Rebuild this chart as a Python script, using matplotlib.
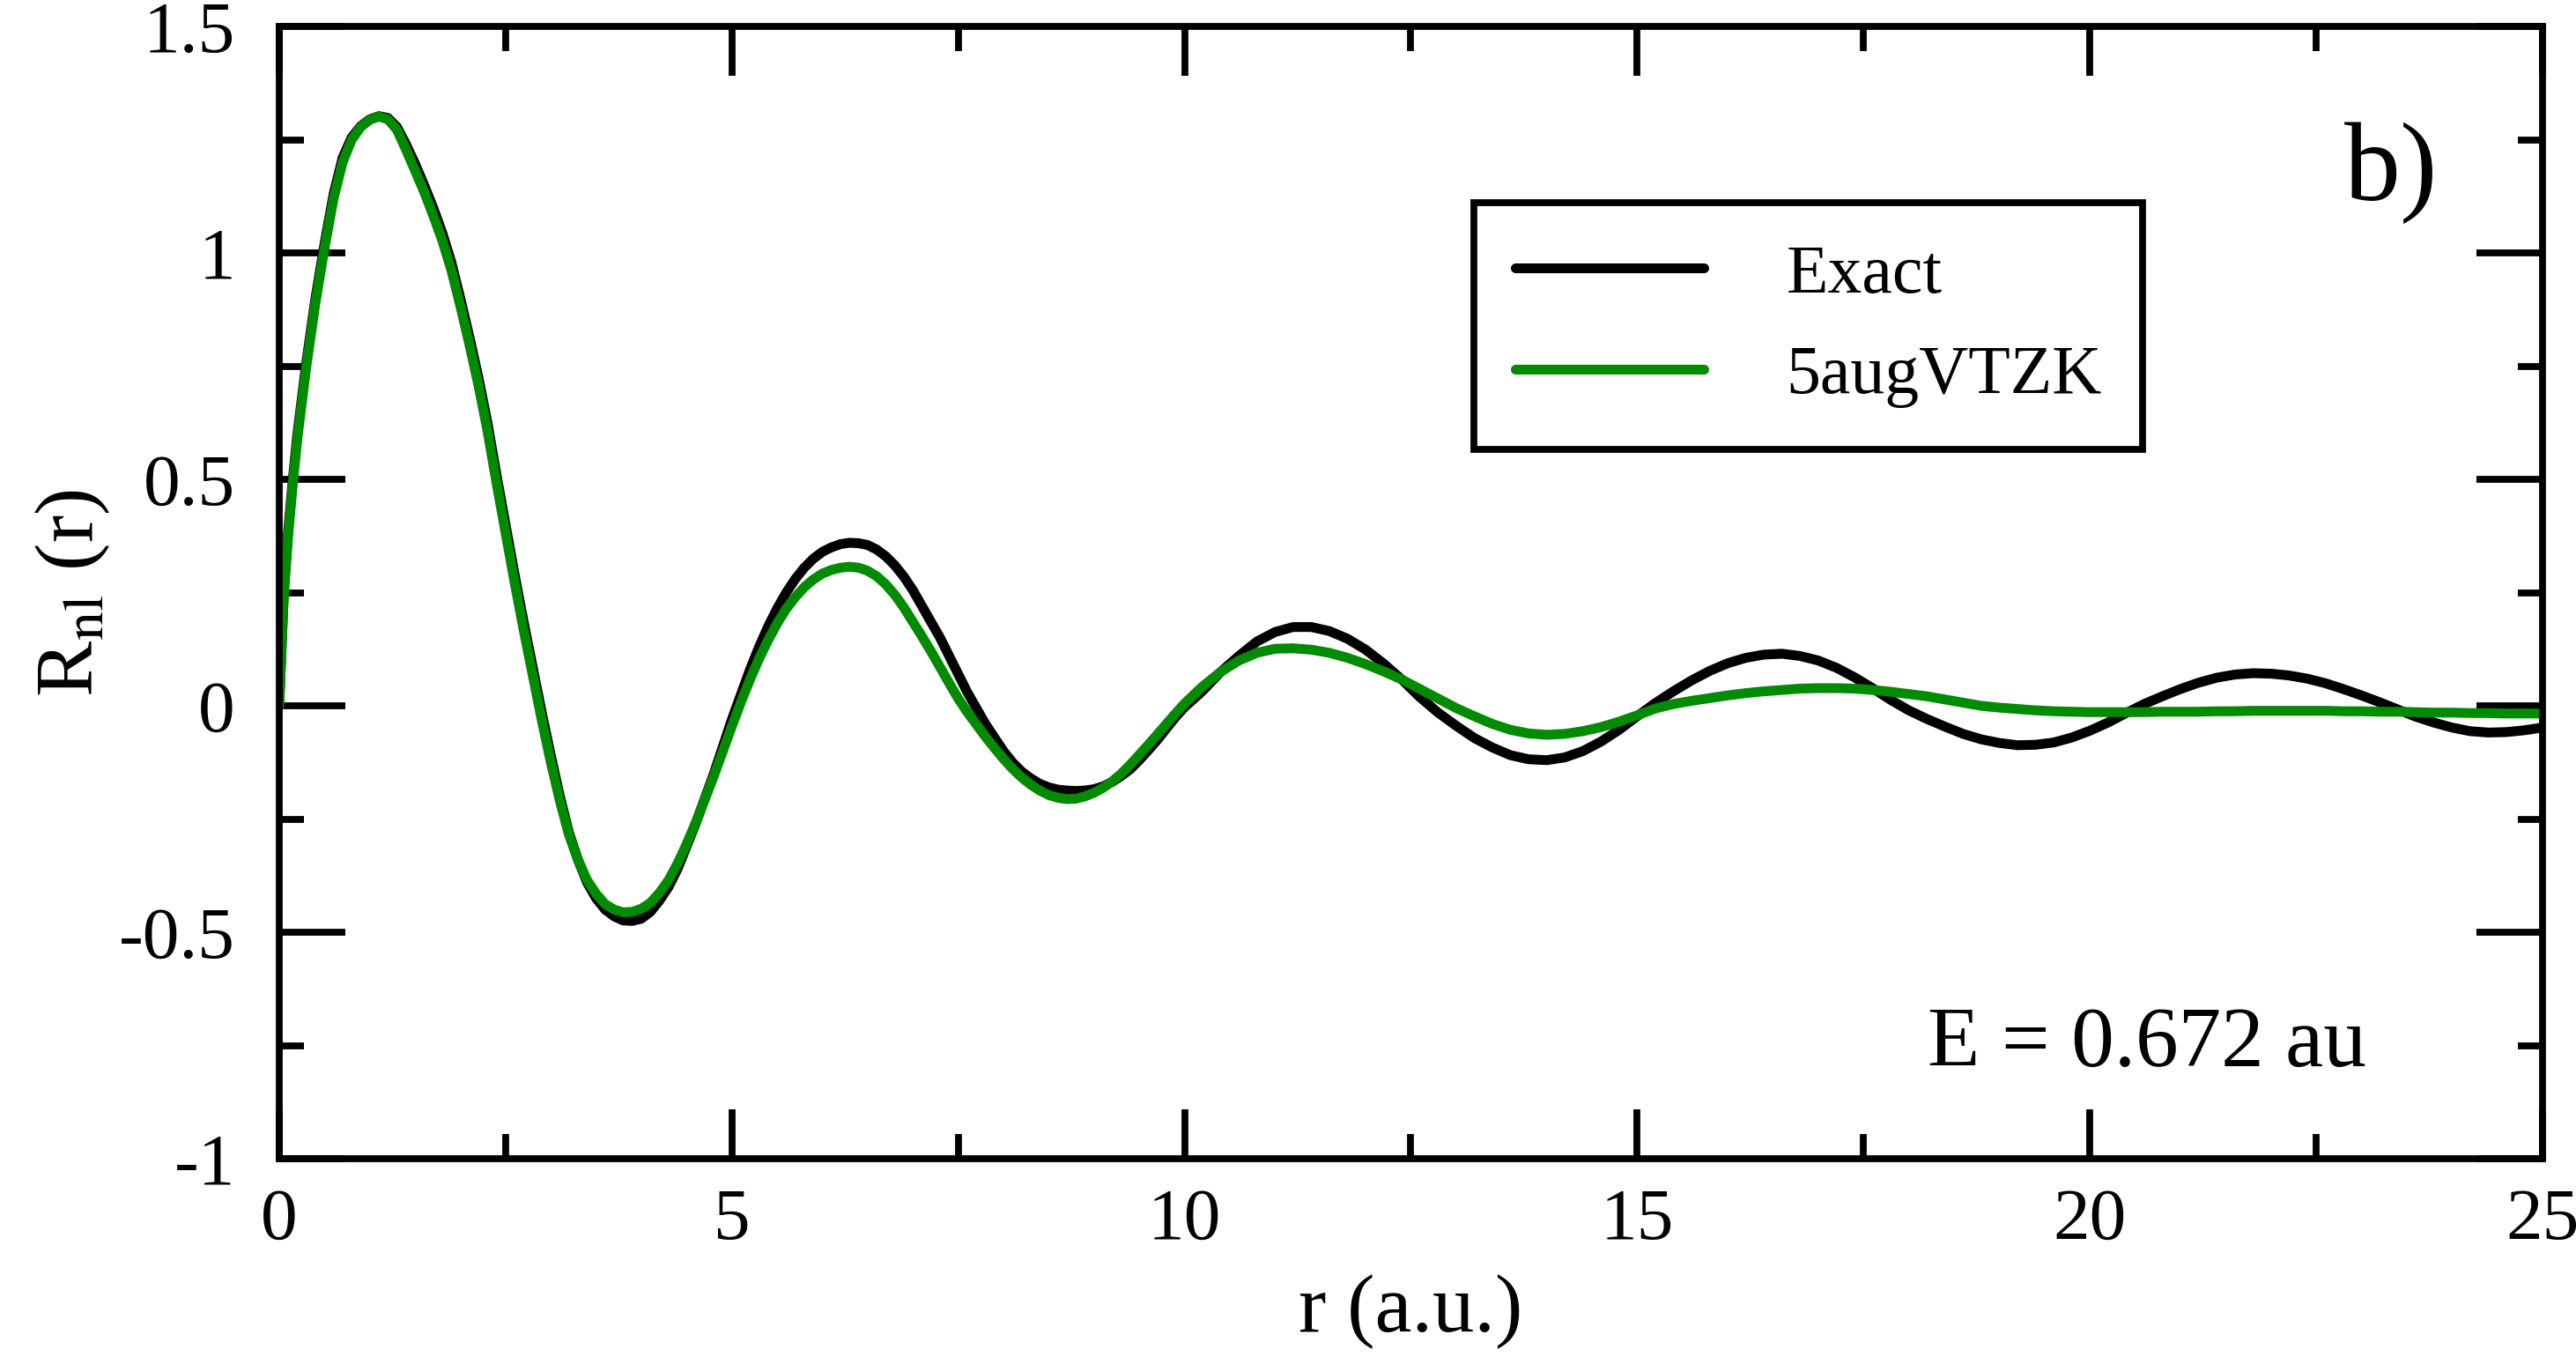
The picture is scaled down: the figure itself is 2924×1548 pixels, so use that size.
import matplotlib
matplotlib.use('Agg')
import matplotlib.pyplot as plt
from matplotlib.ticker import MultipleLocator, FixedLocator

plt.rcParams['font.family'] = ['Liberation Serif', 'DejaVu Serif']
plt.rcParams['mathtext.fontset'] = 'stix'

# radial points (a.u.): fine steps up to 10, coarser after
r_fine = [0, 0.05, 0.1, 0.15, 0.2, 0.3, 0.4, 0.5, 0.6, 0.7, 0.8, 0.9,
          1.0, 1.1, 1.2, 1.3, 1.4, 1.5, 1.6, 1.7, 1.8, 1.9,
          2.0, 2.1, 2.2, 2.3, 2.4, 2.5, 2.6, 2.7, 2.8, 2.9,
          3.0, 3.1, 3.2, 3.3, 3.4, 3.5, 3.6, 3.7, 3.8, 3.9,
          4.0, 4.1, 4.2, 4.3, 4.4, 4.5, 4.6, 4.7, 4.8, 4.9,
          5.0, 5.1, 5.2, 5.3, 5.4, 5.5, 5.6, 5.7, 5.8, 5.9,
          6.0, 6.1, 6.2, 6.3, 6.4, 6.5, 6.6, 6.7, 6.8, 6.9,
          7.0, 7.1, 7.2, 7.3, 7.4, 7.5, 7.6, 7.7, 7.8, 7.9,
          8.0, 8.1, 8.2, 8.3, 8.4, 8.5, 8.6, 8.7, 8.8, 8.9,
          9.0, 9.1, 9.2, 9.3, 9.4, 9.5, 9.6, 9.7, 9.8, 9.9]
r_coarse = [10.0, 10.2, 10.4, 10.6, 10.8, 11.0, 11.2, 11.4, 11.6, 11.8,
            12.0, 12.2, 12.4, 12.6, 12.8, 13.0, 13.2, 13.4, 13.6, 13.8,
            14.0, 14.2, 14.4, 14.6, 14.8, 15.0, 15.2, 15.4, 15.6, 15.8,
            16.0, 16.2, 16.4, 16.6, 16.8, 17.0, 17.2, 17.4, 17.6, 17.8,
            18.0, 18.2, 18.4, 18.6, 18.8, 19.0, 19.2, 19.4, 19.6, 19.8,
            20.0, 20.2, 20.4, 20.6, 20.8, 21.0, 21.2, 21.4, 21.6, 21.8,
            22.0, 22.2, 22.4, 22.6, 22.8, 23.0, 23.2, 23.4, 23.6, 23.8,
            24.0, 24.2, 24.4, 24.6, 24.8, 25.0]
r = r_fine + r_coarse

exact = [0, 0.25, 0.39, 0.50, 0.60, 0.76, 0.90, 1.02, 1.13, 1.21, 1.255, 1.28,
         1.295, 1.302, 1.298, 1.278, 1.24, 1.197, 1.15, 1.10, 1.045, 0.98,
         0.90, 0.815, 0.725, 0.625, 0.51, 0.40, 0.29, 0.185, 0.085, -0.015,
         -0.11, -0.20, -0.28, -0.34, -0.39, -0.425, -0.45, -0.465, -0.474, -0.475,
         -0.47, -0.455, -0.43, -0.40, -0.36, -0.31, -0.26, -0.205, -0.15, -0.09,
         -0.03, 0.025, 0.08, 0.13, 0.175, 0.215, 0.25, 0.28, 0.305, 0.325,
         0.34, 0.35, 0.357, 0.36, 0.359, 0.355, 0.345, 0.33, 0.31, 0.285,
         0.255, 0.22, 0.185, 0.15, 0.11, 0.07, 0.03, -0.005, -0.04, -0.07,
         -0.10, -0.125, -0.145, -0.16, -0.172, -0.18, -0.185, -0.187, -0.188, -0.187,
         -0.184, -0.178, -0.168, -0.155, -0.14, -0.12, -0.098, -0.075, -0.05, -0.025,
         -0.003, 0.033, 0.075, 0.11, 0.142, 0.163, 0.174, 0.174, 0.165, 0.148,
         0.124, 0.093, 0.058, 0.019, -0.015, -0.044, -0.071, -0.092, -0.109, -0.118,
         -0.12, -0.114, -0.10, -0.079, -0.053, -0.023, 0.006, 0.032, 0.056, 0.077,
         0.094, 0.106, 0.113, 0.115, 0.110, 0.10, 0.084, 0.063, 0.039, 0.013,
         -0.010, -0.029, -0.046, -0.062, -0.074, -0.082, -0.087, -0.086, -0.081, -0.070,
         -0.055, -0.037, -0.016, 0.004, 0.021, 0.037, 0.051, 0.062, 0.069, 0.072,
         0.071, 0.067, 0.060, 0.050, 0.037, 0.023, 0.008, -0.008, -0.024, -0.037,
         -0.048, -0.056, -0.059, -0.058, -0.054, -0.048]

vtzk = [0, 0.24, 0.38, 0.49, 0.59, 0.75, 0.89, 1.01, 1.12, 1.20, 1.25, 1.278,
        1.294, 1.301, 1.295, 1.272, 1.228, 1.182, 1.135, 1.083, 1.028, 0.963,
        0.883, 0.798, 0.708, 0.607, 0.492, 0.382, 0.272, 0.167, 0.067, -0.032,
        -0.125, -0.21, -0.285, -0.34, -0.385, -0.415, -0.438, -0.45, -0.456, -0.455,
        -0.448, -0.435, -0.413, -0.385, -0.348, -0.305, -0.258, -0.207, -0.155, -0.10,
        -0.045, 0.008, 0.058, 0.104, 0.145, 0.182, 0.214, 0.24, 0.262, 0.279,
        0.292, 0.30, 0.305, 0.307, 0.305, 0.298, 0.286, 0.268, 0.245, 0.217,
        0.185, 0.153, 0.12, 0.085, 0.05, 0.016, -0.014, -0.041, -0.068, -0.093,
        -0.117, -0.139, -0.158, -0.174, -0.187, -0.197, -0.203, -0.206, -0.205, -0.20,
        -0.192, -0.181, -0.167, -0.15, -0.13, -0.108, -0.086, -0.063, -0.04, -0.017,
        0.005, 0.043, 0.075, 0.10, 0.117, 0.126, 0.127, 0.124, 0.117, 0.106,
        0.092, 0.076, 0.058, 0.037, 0.016, -0.005, -0.023, -0.04, -0.053, -0.061,
        -0.064, -0.062, -0.056, -0.047, -0.035, -0.021, -0.006, 0.004, 0.011, 0.017,
        0.023, 0.028, 0.032, 0.035, 0.038, 0.039, 0.039, 0.038, 0.035, 0.031,
        0.026, 0.021, 0.014, 0.007, 0.0, -0.004, -0.007, -0.010, -0.012, -0.013,
        -0.014, -0.014, -0.014, -0.014, -0.013, -0.013, -0.013, -0.012, -0.012, -0.011,
        -0.011, -0.011, -0.011, -0.011, -0.012, -0.012, -0.013, -0.013, -0.014, -0.015,
        -0.015, -0.016, -0.016, -0.017, -0.017, -0.017]

assert len(r) == len(exact) == len(vtzk), (len(r), len(exact), len(vtzk))

labels = ['Exact', '5augVTZK']
colors = ['black', '#008b00']

yticks = [-1, -0.5, 0, 0.5, 1, 1.5]
ytick_labels = ['-1', '-0.5', '0', '0.5', '1', '1.5']

fig = plt.figure(figsize=(14.62, 7.74), dpi=200)
ax = fig.add_axes([0.1084, 0.1505, 0.8786, 0.8301])

for ys, lab, col in zip([exact, vtzk], labels, colors):
    ax.plot(r, ys, color=col, linewidth=4.0, label=lab,
            solid_capstyle='round', solid_joinstyle='round')

ax.set_xlim(0, 25)
ax.set_ylim(-1, 1.5)

ax.xaxis.set_major_locator(MultipleLocator(5))
ax.xaxis.set_minor_locator(MultipleLocator(2.5))
ax.yaxis.set_major_locator(FixedLocator(yticks))
ax.yaxis.set_minor_locator(MultipleLocator(0.25))
ax.set_yticklabels(ytick_labels)

ax.tick_params(axis='both', which='both', direction='in', top=True, right=True, width=2.8)
ax.tick_params(axis='x', which='major', length=20, pad=12, labelsize=30)
ax.tick_params(axis='x', which='minor', length=10)
ax.tick_params(axis='y', which='major', length=27, pad=18, labelsize=30)
ax.tick_params(axis='y', which='minor', length=10)

for sp in ax.spines.values():
    sp.set_linewidth(2.8)

ax.set_xlabel('r (a.u.)', fontsize=34, labelpad=8)
ax.set_ylabel(r'R$_{\rm nl}$ (r)', fontsize=34, labelpad=3)

ax.text(0.933, 0.871, 'b)', transform=ax.transAxes, fontsize=46, ha='center', va='center')
ax.text(0.922, 0.100, 'E = 0.672 au', transform=ax.transAxes, fontsize=35, ha='right', va='center')

leg = ax.legend(loc='upper left', bbox_to_anchor=(0.528, 0.844), fontsize=28,
                frameon=True, fancybox=False, edgecolor='black', framealpha=1,
                handlelength=2.75, handletextpad=1.2, borderpad=0.6, labelspacing=0.55,
                borderaxespad=0)
leg.get_frame().set_linewidth(2.8)

fig.savefig('out.png', dpi=200)
